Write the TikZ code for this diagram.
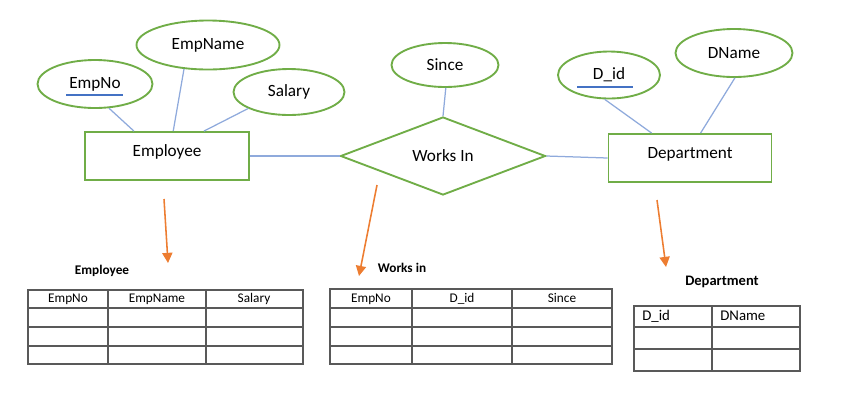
\documentclass[tikz,border=0pt]{standalone}
\usepackage{fontspec}
\setmainfont{Carlito}
\usepackage{tikz}
\usetikzlibrary{shapes.geometric}
\usetikzlibrary{arrows.meta}

\definecolor{attrgreen}{RGB}{112,173,71}
\definecolor{linkblue}{RGB}{143,170,220}
\definecolor{keyblue}{RGB}{68,114,196}
\definecolor{maporange}{RGB}{237,125,49}
\definecolor{gridgray}{RGB}{89,89,89}
\newcommand\pxu{0.0225cm}

\begin{document}
\begin{tikzpicture}[x=\pxu, y=-\pxu,
   attr/.style={
      ellipse,
      draw = attrgreen,
      line width = 1.2pt,
      inner sep = 0pt,
      font = \fontsize{11}{13}\selectfont
   },
   entity/.style={
      rectangle,
      draw = attrgreen,
      line width = 1.2pt,
      minimum width = 164*\pxu,
      minimum height = 48*\pxu,
      text height = 7pt,
      text depth = 6pt,
      font = \fontsize{11}{13}\selectfont
   },
   relation/.style={
      diamond,
      draw = attrgreen,
      line width = 1.2pt,
      inner sep = 0pt,
      minimum width = 205*\pxu,
      minimum height = 78*\pxu,
      font = \fontsize{11}{13}\selectfont
   },
   link/.style={draw=linkblue, line width=.8pt},
   keyline/.style={draw=keyblue, line width=.9pt},
   maparrow/.style={draw=maporange, line width=1pt, -{Triangle[length=6.5pt,width=6.5pt]}},
   tabline/.style={draw=gridgray, line width=.7pt},
   tabtitle/.style={font=\bfseries\fontsize{8.5}{10}\selectfont, inner sep=0pt},
   cell/.style={font=\fontsize{8.5}{10}\selectfont, inner sep=0pt, text height=6pt, text depth=1.5pt}
]
   \useasboundingbox (0,0) rectangle (858,402);

   % ER part
   \node[entity] (employee) at (167,156) {Employee};
   \node[entity, minimum width=163*\pxu] (department) at (690,158) {Department};
   \node[relation] (worksin) at (443,156) {Works In};

   \node[attr, minimum width=115*\pxu, minimum height=48*\pxu] (empno) at (95,84) {EmpNo};
   \node[attr, minimum width=143*\pxu, minimum height=49*\pxu] (empname) at (208,45) {EmpName};
   \node[attr, minimum width=111*\pxu, minimum height=46*\pxu] (salary) at (289,92) {Salary};
   \node[attr, minimum width=107*\pxu, minimum height=44*\pxu] (since) at (445,65) {Since};
   \node[attr, minimum width=102*\pxu, minimum height=47*\pxu] (did) at (609,75) {D\_id};
   \node[attr, minimum width=117*\pxu, minimum height=48*\pxu] (dname) at (734,53) {DName};

   \draw[keyline] ([shift={(-29,11)}]empno.center) -- ([shift={(28,11)}]empno.center);
   \draw[keyline] ([shift={(-32,12)}]did.center) -- ([shift={(24,12)}]did.center);

   \draw[link] (empno.-60) -- (employee.143);
   \draw[link] (empname.-135) -- (employee.76);
   \draw[link] (salary.-158) -- (employee.34);
   \draw[link] (since.-88) -- (worksin.north);
   \draw[link] (did.-100) -- (department.147);
   \draw[link] (dname.-88) -- (department.67);
   \draw[link] (employee.east) -- (worksin.west);
   \draw[link] (worksin.east) -- (department.west);

   % arrows to the tables
   \coordinate (emparrowtop) at (164,199);
   \coordinate (emparrowtip) at (168,263);
   \coordinate (worksarrowtop) at (377,185);
   \coordinate (worksarrowtip) at (359,276);
   \coordinate (deptarrowtop) at (657,200);
   \coordinate (deptarrowtip) at (666,267);
   \draw[maparrow] (emparrowtop) -- (emparrowtip);
   \draw[maparrow] (worksarrowtop) -- (worksarrowtip);
   \draw[maparrow] (deptarrowtop) -- (deptarrowtip);

   % Employee table
   \node[tabtitle] (emptitle) at (102,271) {Employee};
   \draw[tabline] (28,290) rectangle (303,364);
   \foreach \y in {308,327,346}
      \draw[tabline] (28,\y) -- (303,\y);
   \foreach \x in {108,206}
      \draw[tabline] (\x,290) -- (\x,364);
   \foreach \x/\t [count=\i] in {68/EmpNo,157/EmpName,254/Salary}
      \node[cell] (emphead\i) at (\x,299) {\t};

   % Works in table
   \node[tabtitle] (workstitle) at (402,268) {Works in};
   \draw[tabline] (330,289) rectangle (612,364);
   \foreach \y in {308,327,346}
      \draw[tabline] (330,\y) -- (612,\y);
   \foreach \x in {412,512}
      \draw[tabline] (\x,289) -- (\x,364);
   \foreach \x/\t [count=\i] in {371/EmpNo,462/D\_id,562/Since}
      \node[cell] (workshead\i) at (\x,298.5) {\t};

   % Department table
   \node[tabtitle, font=\bfseries\fontsize{9.3}{11}\selectfont] (depttitle) at (722,282) {Department};
   \draw[tabline] (634,306) rectangle (800,371);
   \foreach \y in {327,349}
      \draw[tabline] (634,\y) -- (800,\y);
   \draw[tabline] (712,306) -- (712,371);
   \foreach \x/\t [count=\i] in {642/D\_id,720/DName}
      \node[cell, anchor=west, font=\fontsize{9.5}{11}\selectfont] (depthead\i) at (\x,316.5) {\t};

\end{tikzpicture}
\end{document}
